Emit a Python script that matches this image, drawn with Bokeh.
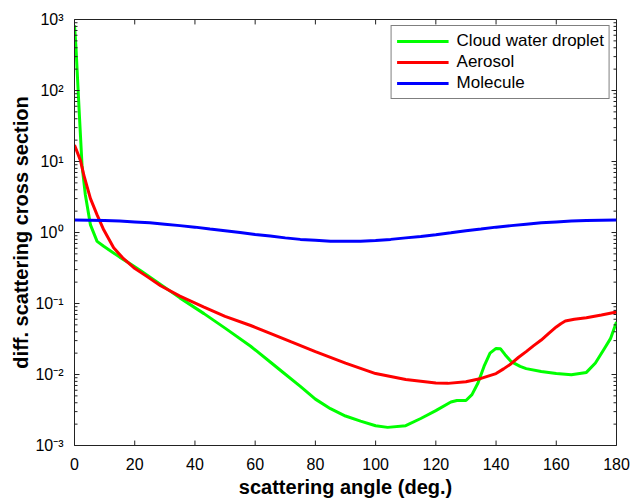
from bokeh.plotting import figure
from bokeh.models import Range1d, FixedTicker, CustomJSTickFormatter, Legend, LegendItem
from bokeh.embed import file_html
from bokeh.resources import INLINE

# ---- data ----
cloud_angle = [0, 0.5, 1, 1.7, 2.5, 3.6, 5.3, 7.5, 9.7, 12, 15, 18.6, 22, 27.5, 35, 43, 50,
               58.5, 65, 69.5, 75, 80, 85, 90, 95, 100, 104, 110, 115, 120, 125, 127, 130,
               132, 134, 136, 138, 140, 141.5, 143, 145, 148, 150, 155, 160, 165, 170, 173,
               176, 178, 180]
cloud = [830, 400, 150, 39, 8.8, 3.4, 1.28, 0.75, 0.64, 0.55, 0.45, 0.36, 0.29, 0.2, 0.12,
         0.072, 0.045, 0.025, 0.015, 0.0105, 0.0068, 0.0045, 0.0033, 0.0026, 0.0022, 0.0019,
         0.0018, 0.0019, 0.0024, 0.0031, 0.0041, 0.0043, 0.0043, 0.0052, 0.0076, 0.013,
         0.02, 0.0233, 0.023, 0.019, 0.0152, 0.013, 0.0121, 0.011, 0.0103, 0.0099, 0.0107,
         0.0145, 0.0233, 0.032, 0.055]

aer_angle = [0, 2, 3.1, 5.3, 7.5, 9.7, 13, 16, 19.7, 24, 28.6, 35, 43, 50, 58.5, 65, 72, 80,
             90, 100, 110, 120, 124, 130, 135, 140, 142.5, 145, 147.5, 150, 152.5, 155,
             157.5, 160, 161.5, 163, 166, 170, 175, 180]
aerosol = [17, 10.3, 6.4, 3.0, 1.77, 1.09, 0.61, 0.44, 0.32, 0.241, 0.178, 0.127, 0.089,
           0.066, 0.049, 0.038, 0.0288, 0.021, 0.0145, 0.0103, 0.0085, 0.0076, 0.0075,
           0.0079, 0.0088, 0.0103, 0.012, 0.0142, 0.0175, 0.021, 0.0255, 0.0306, 0.038,
           0.0468, 0.052, 0.0568, 0.060, 0.063, 0.069, 0.0757]

mol_angle = [0, 5, 10, 15, 20, 25, 30, 35, 40, 45, 50, 55, 60, 65, 70, 75, 80, 85, 90, 95,
             100, 105, 110, 115, 120, 125, 130, 135, 140, 145, 150, 155, 160, 165, 170, 175,
             180]
molecule = [1.5, 1.49, 1.48, 1.45, 1.41, 1.37, 1.31, 1.25, 1.19, 1.12, 1.06, 1.0, 0.94,
            0.89, 0.84, 0.80, 0.78, 0.755, 0.75, 0.755, 0.77, 0.80, 0.84, 0.88, 0.93, 0.99,
            1.06, 1.12, 1.19, 1.25, 1.31, 1.37, 1.41, 1.45, 1.48, 1.49, 1.5]

x_ticks = [0, 20, 40, 60, 80, 100, 120, 140, 160, 180]
y_ticks = [1e-3, 1e-2, 1e-1, 1e0, 1e1, 1e2, 1e3]
y_minor = [m * 10.0 ** e for e in range(-3, 3) for m in range(2, 10)]

series_names = ["Cloud water droplet", "Aerosol", "Molecule"]
colors = ["#00ff00", "#ff0000", "#0000ff"]

FONT = "Liberation Sans"
X0, X1 = 0, 180
Y0, Y1 = 1e-3, 1e3
W, H = 630, 500
ML, MR, MT, MB = 74, 14, 19, 50
FW, FH = W - ML - MR, H - MT - MB  # frame size in px

p = figure(width=W, height=H, y_axis_type="log",
           x_range=Range1d(X0, X1), y_range=Range1d(Y0, Y1),
           output_backend="svg", toolbar_location=None,
           min_border_left=ML, min_border_right=MR, min_border_top=MT, min_border_bottom=MB)
p.xgrid.visible = False
p.ygrid.visible = False
p.outline_line_color = "#222222"
p.outline_line_width = 1
p.background_fill_color = "white"
p.border_fill_color = "white"

r1 = p.line(cloud_angle, cloud, line_color=colors[0], line_width=3)
r2 = p.line(aer_angle, aerosol, line_color=colors[1], line_width=3)
r3 = p.line(mol_angle, molecule, line_color=colors[2], line_width=3)


# inward tick marks along all four frame edges
def xlen(px):
    return px * (X1 - X0) / FW


def yfac(px):
    return 10 ** (px * 6.0 / FH)


tk = dict(line_color="#222222", line_width=1)
MAJ, MIN = 5, 3
xs_b = [[t, t] for t in x_ticks]
ys_b = [[Y0, Y0 * yfac(MAJ)] for t in x_ticks]
ys_t = [[Y1, Y1 / yfac(MAJ)] for t in x_ticks]
p.multi_line(xs=xs_b, ys=ys_b, **tk)
p.multi_line(xs=xs_b, ys=ys_t, **tk)

xs_l = [[X0, X0 + xlen(MAJ)] for t in y_ticks]
xs_r = [[X1, X1 - xlen(MAJ)] for t in y_ticks]
ys_lr = [[t, t] for t in y_ticks]
p.multi_line(xs=xs_l, ys=ys_lr, **tk)
p.multi_line(xs=xs_r, ys=ys_lr, **tk)

xs_lm = [[X0, X0 + xlen(MIN)] for t in y_minor]
xs_rm = [[X1, X1 - xlen(MIN)] for t in y_minor]
ys_m = [[t, t] for t in y_minor]
p.multi_line(xs=xs_lm, ys=ys_m, **tk)
p.multi_line(xs=xs_rm, ys=ys_m, **tk)

sup_code = """
const sup = {'-':'\u207b','0':'\u2070','1':'\u00b9','2':'\u00b2','3':'\u00b3','4':'\u2074',
             '5':'\u2075','6':'\u2076','7':'\u2077','8':'\u2078','9':'\u2079'};
const e = Math.round(Math.log10(tick));
return '10' + String(e).split('').map(c => sup[c]).join('');
"""


def style(ax):
    ax.axis_line_color = "#222222"
    ax.major_tick_line_color = None
    ax.minor_tick_line_color = None
    ax.major_label_text_font = FONT
    ax.major_label_text_font_size = "16px"
    ax.major_label_text_color = "black"
    ax.axis_label_text_color = "black"
    ax.axis_label_text_font = FONT
    ax.axis_label_text_font_style = "bold"
    ax.axis_label_text_font_size = "20px"


xa = p.xaxis[0]
xa.ticker = FixedTicker(ticks=x_ticks)
style(xa)
xa.major_label_standoff = 6
xa.axis_label = "scattering angle (deg.)"
xa.axis_label_standoff = 3

ya = p.yaxis[0]
ya.ticker = FixedTicker(ticks=y_ticks, minor_ticks=y_minor)
ya.formatter = CustomJSTickFormatter(code=sup_code)
style(ya)
ya.major_label_standoff = 5
ya.axis_label = "diff. scattering cross section"
ya.axis_label_standoff = 0

legend = Legend(items=[LegendItem(label=series_names[0], renderers=[r1]),
                       LegendItem(label=series_names[1], renderers=[r2]),
                       LegendItem(label=series_names[2], renderers=[r3])],
                location="top_right")
legend.label_text_font = FONT
legend.label_text_font_size = "17px"
legend.label_text_color = "black"
legend.border_line_color = "black"
legend.border_line_width = 1
legend.glyph_width = 52
legend.glyph_height = 18
legend.label_height = 18
legend.spacing = 1
legend.padding = 5
legend.margin = 6
legend.label_standoff = 8
legend.background_fill_alpha = 1
p.add_layout(legend)

open("out.html", "w").write(file_html(p, INLINE))
